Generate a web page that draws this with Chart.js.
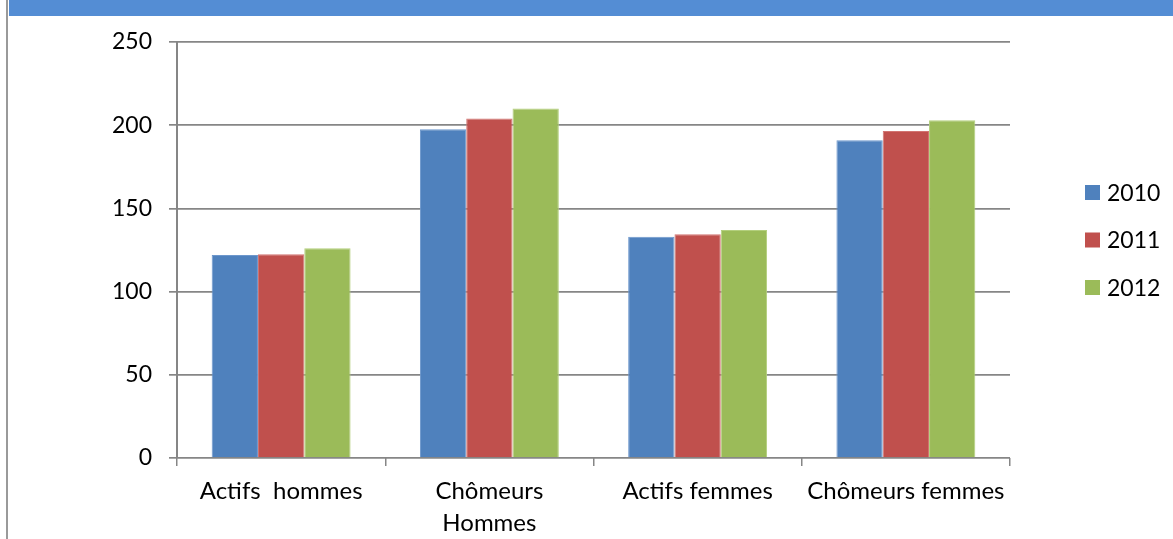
<!DOCTYPE html>
<html>
<head>
<meta charset="utf-8">
<script src="https://cdn.jsdelivr.net/npm/chart.js@4/dist/chart.umd.min.js"></script>
<style>
  html, body { margin: 0; padding: 0; background: #ffffff; }
  #wrap { width: 1173px; height: 539px; }
</style>
</head>
<body>
<div id="wrap"><canvas id="c" width="1173" height="539"></canvas></div>
<script>
// Categories and yearly values
const categories = ["Actifs  hommes", ["Chômeurs", "Hommes"], "Actifs femmes", "Chômeurs femmes"];
const years = ["2010", "2011", "2012"];
const values2010 = [122, 197.5, 133, 191];
const values2011 = [122.5, 204, 134.5, 196.5];
const values2012 = [126, 210, 137, 203];
const yTicks = [0, 50, 100, 150, 200, 250];

const FONT = "Lato, 'Open Sans', sans-serif";
const fills = ["#4F81BD", "#C0504D", "#9BBB59"];
const edges = ["#6d97cc", "#d27471", "#b3cf7d"];
const GRID = "#868686";

// Page frame: blue band along the top and a thin rule on the left
const framePlugin = {
  id: "frame",
  beforeDraw(chart) {
    const ctx = chart.ctx;
    ctx.save();
    ctx.fillStyle = "#ffffff";
    ctx.fillRect(0, 0, chart.width, chart.height);
    ctx.fillStyle = "#548DD4";
    ctx.fillRect(9, 0, chart.width - 9, 16);
    ctx.fillStyle = "#9a9a9a";
    ctx.fillRect(6, 0, 2, chart.height);
    ctx.restore();
  }
};

// Legend to the right of the plot, one square and label per dataset
const sideLegend = {
  id: "sideLegend",
  afterDraw(chart) {
    const ctx = chart.ctx;
    ctx.save();
    ctx.font = "23px " + FONT;
    ctx.textBaseline = "middle";
    ctx.textAlign = "left";
    chart.data.datasets.forEach((ds, i) => {
      const cy = 192.5 + i * 47.5;
      ctx.fillStyle = ds.backgroundColor;
      ctx.fillRect(1085, cy - 7.5, 15, 15);
      ctx.fillStyle = "#000000";
      ctx.fillText(ds.label, 1107, cy + 1);
    });
    ctx.restore();
  }
};

const seriesValues = [values2010, values2011, values2012];

new Chart(document.getElementById("c"), {
  type: "bar",
  data: {
    labels: categories,
    datasets: years.map((y, i) => ({
      label: y,
      data: seriesValues[i],
      backgroundColor: fills[i],
      borderColor: edges[i],
      borderWidth: 1,
      categoryPercentage: 0.667,
      barPercentage: 1.0
    }))
  },
  options: {
    responsive: false,
    animation: false,
    devicePixelRatio: 1,
    layout: { padding: { left: 0, top: 42, right: 163, bottom: 0 } },
    plugins: {
      legend: { display: false },
      tooltip: { enabled: false }
    },
    scales: {
      x: {
        offset: true,
        afterFit(scale) { scale.height = 81; },
        grid: {
          offset: true,
          drawOnChartArea: false,
          drawTicks: true,
          tickLength: 8,
          color: GRID,
          lineWidth: 1.5
        },
        border: { display: false },
        ticks: {
          autoSkip: false,
          maxRotation: 0,
          minRotation: 0,
          padding: 10,
          color: "#000000",
          font: { family: FONT, size: 24, lineHeight: 1.3 }
        }
      },
      y: {
        min: 0,
        max: 250,
        afterFit(scale) { scale.width = 177; },
        afterBuildTicks(scale) { scale.ticks = yTicks.map(v => ({ value: v })); },
        grid: {
          color: GRID,
          lineWidth: 1.7,
          drawTicks: true,
          tickLength: 8
        },
        border: { display: true, color: GRID, width: 2 },
        ticks: {
          padding: 17,
          color: "#000000",
          font: { family: FONT, size: 23 }
        }
      }
    }
  },
  plugins: [framePlugin, sideLegend]
});
</script>
</body>
</html>
